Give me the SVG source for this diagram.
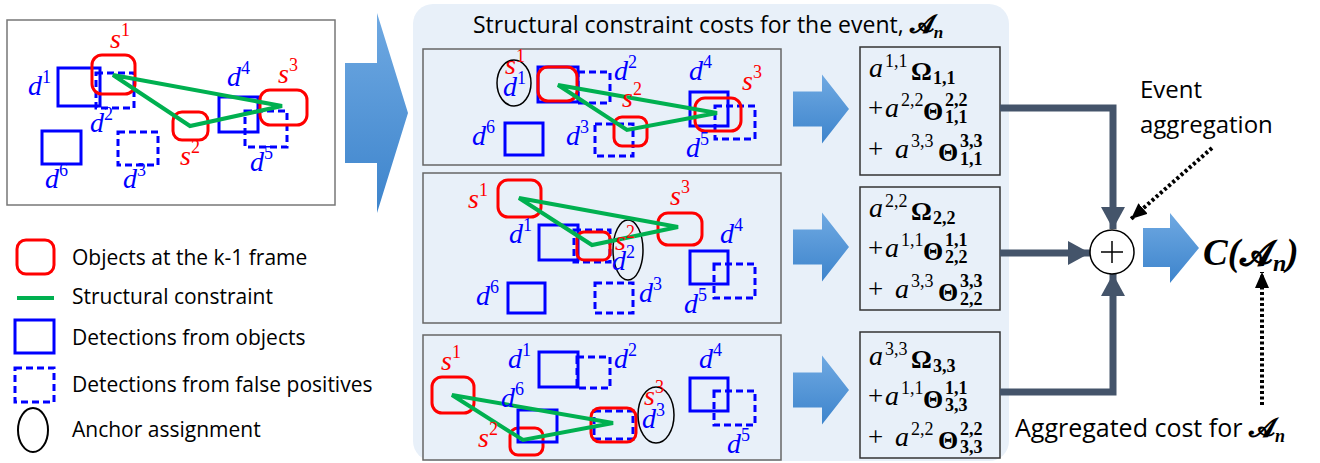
<svg xmlns="http://www.w3.org/2000/svg" width="1320" height="463" viewBox="0 0 1320 463">
<defs>
<linearGradient id="bg" x1="0" y1="0" x2="0" y2="1">
<stop offset="0" stop-color="#6fa9e2"/>
<stop offset="1" stop-color="#3d84cc"/>
</linearGradient>
<marker id="ah" markerUnits="userSpaceOnUse" markerWidth="22" markerHeight="24" viewBox="0 0 22 24" refX="22" refY="12" orient="auto">
<path d="M0,0 L22,12 L0,24 z" fill="#44546a"/>
</marker>
<marker id="dh" markerUnits="userSpaceOnUse" markerWidth="16" markerHeight="14" viewBox="0 0 16 14" refX="16" refY="7" orient="auto">
<path d="M0,0 L16,7 L0,14 z" fill="#000"/>
</marker>
<style>
.red{fill:none;stroke:#ff0000;stroke-width:3}
.sol{fill:none;stroke:#0000ff;stroke-width:3}
.dsh{fill:none;stroke:#0000ff;stroke-width:3;stroke-dasharray:7 4}
.grn{fill:none;stroke:#00b050;stroke-width:4;stroke-linecap:round}
.ell{fill:none;stroke:#000;stroke-width:1.5}
.frm{fill:none;stroke:#666;stroke-width:1.5}
.lbl{font-family:"Liberation Serif",serif;font-style:italic;font-size:28px}
.lr{fill:#ff0000}
.lb{fill:#0000ff}
.sup{font-style:normal;font-size:18px}
.txt{font-family:"Open Sans",sans-serif;font-size:21px;fill:#000}
.mi{font-family:"Liberation Serif",serif;font-style:italic;font-size:28px;fill:#000}
.mr{font-family:"Liberation Serif",serif;font-size:27px;fill:#000}
.mb{font-family:"Liberation Serif",serif;font-weight:bold;font-size:26px;fill:#000}
.ss{font-family:"Liberation Serif",serif;font-size:18px;fill:#000}
.sb{font-family:"Liberation Serif",serif;font-weight:bold;font-size:18px;fill:#000}
.scr{font-family:"DejaVu Serif","DejaVu Sans",serif;font-weight:bold;font-style:normal}
.fbox{fill:none;stroke:#333;stroke-width:1.5}
.bar{fill:url(#bg)}
.con{fill:none;stroke:#44546a;stroke-width:7}
.dot{fill:none;stroke:#000;stroke-width:4;stroke-dasharray:3 2.5}
</style>
</defs>

<g id="input-frame">
<rect x="7" y="20" width="328" height="185" fill="#fff" stroke="#777" stroke-width="1.5"/>
<rect class="sol" x="58" y="68" width="42" height="38"/>
<rect class="dsh" x="96" y="73" width="38" height="35"/>
<rect class="red" x="92" y="55" width="43" height="39" rx="10"/>
<rect class="red" x="173" y="112" width="35" height="28" rx="9"/>
<rect class="sol" x="219" y="97" width="39" height="35"/>
<rect class="dsh" x="245" y="111" width="42" height="36"/>
<rect class="red" x="260" y="90" width="47" height="35" rx="10"/>
<rect class="sol" x="42" y="131" width="39" height="33"/>
<rect class="dsh" x="118" y="132" width="40" height="33"/>
<path class="grn" d="M113,75 L282,106 L190,126 Z"/>
<text class="lbl lr" x="110" y="48">s<tspan class="sup" dy="-12">1</tspan></text>
<text class="lbl lb" x="28" y="95">d<tspan class="sup" dy="-12">1</tspan></text>
<text class="lbl lb" x="90" y="132">d<tspan class="sup" dy="-12">2</tspan></text>
<text class="lbl lr" x="180" y="165">s<tspan class="sup" dy="-12">2</tspan></text>
<text class="lbl lb" x="227" y="86">d<tspan class="sup" dy="-12">4</tspan></text>
<text class="lbl lr" x="278" y="83">s<tspan class="sup" dy="-12">3</tspan></text>
<text class="lbl lb" x="250" y="171">d<tspan class="sup" dy="-12">5</tspan></text>
<text class="lbl lb" x="45" y="188">d<tspan class="sup" dy="-12">6</tspan></text>
<text class="lbl lb" x="123" y="188">d<tspan class="sup" dy="-12">3</tspan></text>
</g>

<g id="legend">
<rect class="red" x="17" y="240" width="37" height="34" rx="9"/>
<text class="txt" x="72" y="265">Objects at the k-1 frame</text>
<line class="grn" x1="17" y1="298" x2="54" y2="298" style="stroke-linecap:butt"/>
<text class="txt" x="72" y="304">Structural constraint</text>
<rect class="sol" x="15" y="320" width="39" height="33"/>
<text class="txt" x="72" y="345">Detections from objects</text>
<rect class="dsh" x="15" y="368" width="39" height="34"/>
<text class="txt" x="72" y="392">Detections from false positives</text>
<ellipse class="ell" cx="33" cy="430" rx="15" ry="22" style="stroke-width:2"/>
<text class="txt" x="72" y="437">Anchor assignment</text>
</g>

<g id="arrow-in">
<polygon class="bar" points="345,63 377,63 377,13 408,113 377,213 377,163 345,163"/>
</g>

<g id="event-panel">
<rect x="413" y="4" width="596" height="457" rx="20" fill="#e8f0f9"/>
<text class="txt" x="473" y="33" style="font-size:23px">Structural constraint costs for the event, <tspan class="scr" style="font-size:25px">𝓐</tspan><tspan style="font-weight:bold;font-style:italic;font-family:'Liberation Serif',serif;font-size:17px" dy="5">n</tspan></text>
</g>

<g id="case-1">
<rect class="frm" x="423" y="49" width="358" height="116"/>
<ellipse class="ell" cx="514" cy="83" rx="17" ry="23"/>
<rect class="sol" x="505" y="123" width="38" height="32"/>
<rect class="dsh" x="578" y="72" width="32" height="31"/>
<rect class="sol" x="538" y="67" width="40" height="35"/>
<rect class="red" x="538" y="67" width="39" height="34" rx="10"/>
<rect class="dsh" x="595" y="124" width="38" height="32"/>
<rect class="red" x="614" y="117" width="33" height="29" rx="8"/>
<rect class="sol" x="690" y="92" width="38" height="34"/>
<rect class="dsh" x="715" y="106" width="40" height="33"/>
<rect class="red" x="695" y="98" width="46" height="33" rx="10"/>
<path class="grn" d="M558,85 L717,113 L627,130 Z"/>
<text class="lbl lr" x="505" y="74">s<tspan class="sup" dy="-12">1</tspan></text>
<text class="lbl lb" x="503" y="96">d<tspan class="sup" dy="-12">1</tspan></text>
<text class="lbl lb" x="614" y="80">d<tspan class="sup" dy="-12">2</tspan></text>
<text class="lbl lr" x="622" y="107">s<tspan class="sup" dy="-12">2</tspan></text>
<text class="lbl lb" x="566" y="145">d<tspan class="sup" dy="-12">3</tspan></text>
<text class="lbl lb" x="472" y="145">d<tspan class="sup" dy="-12">6</tspan></text>
<text class="lbl lb" x="689" y="80">d<tspan class="sup" dy="-12">4</tspan></text>
<text class="lbl lr" x="742" y="90">s<tspan class="sup" dy="-12">3</tspan></text>
<text class="lbl lb" x="686" y="157">d<tspan class="sup" dy="-12">5</tspan></text>
</g>

<g id="case-2">
<rect class="frm" x="423" y="173" width="358" height="150"/>
<rect class="red" x="498" y="180" width="43" height="37" rx="10"/>
<rect class="red" x="658" y="213" width="44" height="32" rx="10"/>
<rect class="sol" x="539" y="225" width="39" height="35"/>
<rect class="dsh" x="574" y="230" width="36" height="32"/>
<rect class="red" x="577" y="232" width="33" height="28" rx="7"/>
<ellipse class="ell" cx="628" cy="250" rx="15" ry="30"/>
<rect class="sol" x="690" y="251" width="38" height="33"/>
<rect class="dsh" x="714" y="264" width="41" height="34"/>
<rect class="sol" x="508" y="283" width="37" height="30"/>
<rect class="dsh" x="595" y="283" width="38" height="30"/>
<path class="grn" d="M519,198 L678,227 L592,245 Z"/>
<text class="lbl lr" x="468" y="208">s<tspan class="sup" dy="-12">1</tspan></text>
<text class="lbl lr" x="670" y="205">s<tspan class="sup" dy="-12">3</tspan></text>
<text class="lbl lb" x="509" y="243">d<tspan class="sup" dy="-12">1</tspan></text>
<text class="lbl lr" x="615" y="250">s<tspan class="sup" dy="-12">2</tspan></text>
<text class="lbl lb" x="612" y="270">d<tspan class="sup" dy="-12">2</tspan></text>
<text class="lbl lb" x="720" y="243">d<tspan class="sup" dy="-12">4</tspan></text>
<text class="lbl lb" x="684" y="313">d<tspan class="sup" dy="-12">5</tspan></text>
<text class="lbl lb" x="476" y="305">d<tspan class="sup" dy="-12">6</tspan></text>
<text class="lbl lb" x="639" y="302">d<tspan class="sup" dy="-12">3</tspan></text>
</g>

<g id="case-3">
<rect class="frm" x="423" y="335" width="358" height="125"/>
<rect class="red" x="432" y="377" width="42" height="36" rx="10"/>
<rect class="sol" x="539" y="352" width="39" height="35"/>
<rect class="dsh" x="577" y="357" width="33" height="31"/>
<rect class="sol" x="690" y="378" width="38" height="33"/>
<rect class="dsh" x="714" y="391" width="41" height="34"/>
<rect class="red" x="510" y="428" width="33" height="27" rx="8"/>
<rect class="sol" x="518" y="410" width="39" height="32"/>
<rect class="dsh" x="594" y="411" width="39" height="28"/>
<rect class="red" x="591" y="408" width="45" height="34" rx="9"/>
<ellipse class="ell" cx="656" cy="415" rx="18" ry="28"/>
<path class="grn" d="M452,395 L613,423 L523,440 Z"/>
<text class="lbl lr" x="441" y="370">s<tspan class="sup" dy="-12">1</tspan></text>
<text class="lbl lb" x="508" y="368">d<tspan class="sup" dy="-12">1</tspan></text>
<text class="lbl lb" x="614" y="368">d<tspan class="sup" dy="-12">2</tspan></text>
<text class="lbl lb" x="699" y="368">d<tspan class="sup" dy="-12">4</tspan></text>
<text class="lbl lb" x="727" y="453">d<tspan class="sup" dy="-12">5</tspan></text>
<text class="lbl lb" x="501" y="407">d<tspan class="sup" dy="-12">6</tspan></text>
<text class="lbl lr" x="478" y="447">s<tspan class="sup" dy="-12">2</tspan></text>
<text class="lbl lr" x="644" y="405">s<tspan class="sup" dy="-12">3</tspan></text>
<text class="lbl lb" x="642" y="428">d<tspan class="sup" dy="-12">3</tspan></text>
</g>

<g id="case-arrows">
<polygon class="bar" points="793,91.5 822,91.5 822,74.5 849,109 822,143.5 822,126.5 793,126.5"/>
<polygon class="bar" points="793,229.5 822,229.5 822,212.5 849,247 822,281.5 822,264.5 793,264.5"/>
<polygon class="bar" points="793,372.5 822,372.5 822,355.5 849,390 822,424.5 822,407.5 793,407.5"/>
</g>

<g id="cost-1" transform="translate(860,47)">
<rect class="fbox" x="0" y="0" width="140" height="128"/>
<text class="mi" x="9" y="30">a</text><text class="ss" x="25" y="20">1,1</text>
<text class="mb" x="51" y="33">Ω</text><text class="sb" x="73" y="37">1,1</text>
<text class="mr" x="8" y="70">+</text><text class="mi" x="25" y="70">a</text><text class="ss" x="41" y="59">2,2</text>
<text class="mb" x="63" y="73">Θ</text><text class="sb" x="85" y="59">2,2</text><text class="sb" x="85" y="76">1,1</text>
<text class="mr" x="8" y="111">+</text><text class="mi" x="35" y="111">a</text><text class="ss" x="51" y="100">3,3</text>
<text class="mb" x="78" y="114">Θ</text><text class="sb" x="100" y="100">3,3</text><text class="sb" x="100" y="118">1,1</text>
</g>

<g id="cost-2" transform="translate(860,187)">
<rect class="fbox" x="0" y="0" width="140" height="123"/>
<text class="mi" x="9" y="30">a</text><text class="ss" x="25" y="20">2,2</text>
<text class="mb" x="51" y="33">Ω</text><text class="sb" x="73" y="37">2,2</text>
<text class="mr" x="8" y="70">+</text><text class="mi" x="25" y="70">a</text><text class="ss" x="41" y="59">1,1</text>
<text class="mb" x="63" y="73">Θ</text><text class="sb" x="85" y="59">1,1</text><text class="sb" x="85" y="76">2,2</text>
<text class="mr" x="8" y="111">+</text><text class="mi" x="35" y="111">a</text><text class="ss" x="51" y="100">3,3</text>
<text class="mb" x="78" y="114">Θ</text><text class="sb" x="100" y="100">3,3</text><text class="sb" x="100" y="118">2,2</text>
</g>

<g id="cost-3" transform="translate(860,332)">
<rect class="fbox" x="0" y="0" width="140" height="126"/>
<text class="mi" x="9" y="33">a</text><text class="ss" x="25" y="23">3,3</text>
<text class="mb" x="51" y="36">Ω</text><text class="sb" x="73" y="40">3,3</text>
<text class="mr" x="8" y="73">+</text><text class="mi" x="25" y="73">a</text><text class="ss" x="41" y="62">1,1</text>
<text class="mb" x="63" y="76">Θ</text><text class="sb" x="85" y="62">1,1</text><text class="sb" x="85" y="79">3,3</text>
<text class="mr" x="8" y="114">+</text><text class="mi" x="35" y="114">a</text><text class="ss" x="51" y="103">2,2</text>
<text class="mb" x="78" y="117">Θ</text><text class="sb" x="100" y="103">2,2</text><text class="sb" x="100" y="121">3,3</text>
</g>

<g id="connectors">
<path class="con" d="M1000,108 H1113 V229" marker-end="url(#ah)"/>
<path class="con" d="M1000,253 H1090" marker-end="url(#ah)"/>
<path class="con" d="M1000,392 H1113 V274" marker-end="url(#ah)"/>
<path class="dot" d="M1212,148 L1131,219" marker-end="url(#dh)"/>
<path class="dot" d="M1262,405 V272" marker-end="url(#dh)"/>
</g>

<g id="sum">
<circle cx="1112" cy="252" r="22" fill="#fff" stroke="#000" stroke-width="1.5"/>
<path d="M1101,252 H1123 M1112,241 V263" stroke="#000" stroke-width="1.5"/>
</g>

<g id="arrow-out">
<polygon class="bar" points="1143,228 1170,228 1170,213 1199,248 1170,283 1170,267 1143,267"/>
</g>

<g id="result">
<text x="1203" y="265" style="font-family:'Liberation Serif',serif;font-weight:bold;font-style:italic;font-size:37px">C(<tspan class="scr" style="font-size:34px">𝓐</tspan><tspan style="font-size:24px" dy="6">n</tspan><tspan dy="-6">)</tspan></text>
</g>

<g id="labels">
<text class="txt" x="1140" y="98" style="font-size:24px">Event</text>
<text class="txt" x="1140" y="133" style="font-size:24px">aggregation</text>
<text class="txt" x="1015" y="437" style="font-size:25px">Aggregated cost for <tspan class="scr" style="font-size:27px">𝓐</tspan><tspan style="font-family:'Liberation Serif',serif;font-weight:bold;font-style:italic;font-size:18px" dy="5">n</tspan></text>
</g>
</svg>
